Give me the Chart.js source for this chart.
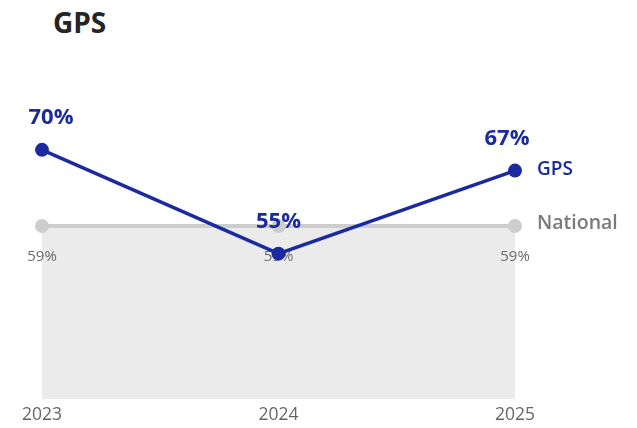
<!DOCTYPE html>
<html>
<head>
<meta charset="utf-8">
<script src="https://cdn.jsdelivr.net/npm/chart.js@4.4.1/dist/chart.umd.min.js"></script>
<style>
  html, body { margin: 0; padding: 0; background: #ffffff; }
  #wrap { position: relative; width: 637px; height: 428px; }
  #title { position: absolute; left: 53px; top: 8px; font-family: "Open Sans", "Noto Sans", sans-serif;
           font-weight: 700; font-size: 28px; line-height: 28px; color: #252525; }
  canvas { position: absolute; left: 0; top: 0; }
</style>
</head>
<body>
<div id="wrap">
  <div id="title">GPS</div>
  <canvas id="chart" width="637" height="428"></canvas>
</div>
<script>
// Survey years and yearly percentages
const years = ['2023', '2024', '2025'];
const gpsValues = [70, 55, 67];
const nationalValues = [59, 59, 59];
const seriesNames = ['GPS', 'National'];

const BLUE = '#1b2a9f';
const GREY_LINE = '#cdcdcd';
const GREY_FILL = '#ebebeb';
const FONT = '"Open Sans", "Noto Sans", sans-serif';

// Value labels and right-hand series names
const labelPlugin = {
  id: 'valueLabels',
  afterDatasetDraw(chart, args) {
    const ctx = chart.ctx;
    const meta = args.meta;
    const ds = chart.data.datasets[args.index];
    const last = meta.data.length - 1;
    ctx.save();
    ctx.textBaseline = 'middle';
    if (args.index === 0) {
      ctx.fillStyle = BLUE;
      ctx.font = '700 22px ' + FONT;
      ctx.textAlign = 'center';
      meta.data.forEach((pt, i) => {
        const shift = i === 0 ? 9 : (i === last ? -8 : 0);
        ctx.fillText(ds.data[i] + '%', pt.x + shift, pt.y - 32);
      });
      ctx.font = '600 19px ' + FONT;
      ctx.textAlign = 'left';
      ctx.fillText(ds.label, meta.data[last].x + 22, meta.data[last].y - 1);
    } else {
      ctx.fillStyle = '#6b6b6b';
      ctx.font = '400 15px ' + FONT;
      ctx.textAlign = 'center';
      meta.data.forEach((pt, i) => {
        ctx.fillText(ds.data[i] + '%', pt.x, pt.y + 31);
      });
      ctx.fillStyle = '#7a7a7a';
      ctx.font = '600 19.5px ' + FONT;
      ctx.textAlign = 'left';
      ctx.fillText(ds.label, meta.data[last].x + 22, meta.data[last].y - 3);
    }
    ctx.restore();
  }
};

new Chart(document.getElementById('chart'), {
  type: 'line',
  data: {
    labels: years,
    datasets: [
      {
        label: seriesNames[0],
        data: gpsValues,
        borderColor: BLUE,
        backgroundColor: BLUE,
        borderWidth: 3.5,
        pointRadius: 7,
        pointBackgroundColor: BLUE,
        pointBorderWidth: 0,
        tension: 0,
        fill: false
      },
      {
        label: seriesNames[1],
        data: nationalValues,
        borderColor: GREY_LINE,
        backgroundColor: GREY_FILL,
        borderWidth: 4,
        pointRadius: 7,
        pointBackgroundColor: GREY_LINE,
        pointBorderWidth: 0,
        tension: 0,
        fill: 'start'
      }
    ]
  },
  options: {
    responsive: false,
    animation: false,
    layout: { padding: { left: 42, right: 122, top: 100, bottom: 0 } },
    plugins: {
      legend: { display: false },
      tooltip: { enabled: false },
      title: { display: false }
    },
    scales: {
      x: {
        offset: false,
        grid: { display: false, drawTicks: false },
        border: { display: false },
        ticks: { color: '#666666', font: { family: FONT, size: 17.5 }, padding: 6 },
        afterFit(scale) { scale.height = 29; }
      },
      y: {
        display: false,
        min: 34,
        max: 77.2
      }
    }
  },
  plugins: [labelPlugin]
});
</script>
</body>
</html>
